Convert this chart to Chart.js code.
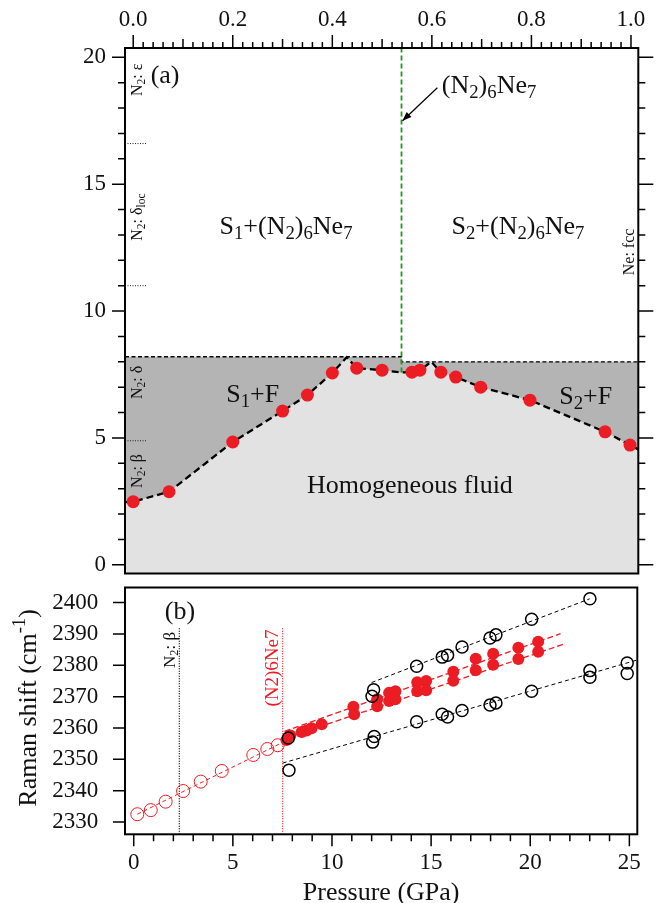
<!DOCTYPE html>
<html><head><meta charset="utf-8">
<script src="https://cdn.jsdelivr.net/npm/chart.js@4/dist/chart.umd.min.js"></script>
<style>html,body{margin:0;padding:0;background:#fff;overflow:hidden;width:656px;height:903px}canvas{position:absolute;left:0}</style>
</head><body>
<canvas id="ca" width="656" height="580" style="top:0"></canvas>
<canvas id="cb" width="656" height="323" style="top:580px"></canvas>
<script>
// ---------- Panel (a): phase diagram (x = Ne fraction, y = pressure GPa) ----------
const phaseX = [0.0, 0.072, 0.2, 0.3, 0.35, 0.4, 0.449, 0.5, 0.56, 0.576, 0.618, 0.648, 0.698, 0.797, 0.948, 0.998];
const phaseP = [2.49, 2.88, 4.84, 6.06, 6.69, 7.56, 7.75, 7.67, 7.59, 7.67, 7.59, 7.40, 7.00, 6.49, 5.24, 4.72];
const boundaryX = [-0.0165, 0.0, 0.072, 0.2, 0.3, 0.35, 0.4, 0.429, 0.449, 0.5, 0.539, 0.56, 0.576, 0.599, 0.618, 0.648, 0.698, 0.797, 0.948, 0.998, 1.0147];
const boundaryP = [2.47, 2.49, 2.88, 4.84, 6.06, 6.69, 7.56, 8.18, 7.75, 7.67, 7.58, 7.59, 7.67, 8.0, 7.59, 7.40, 7.00, 6.49, 5.24, 4.72, 4.55];
const solidusX = [-0.0165, 0.539, 0.539, 1.0147];
const solidusP = [8.2, 8.2, 8.0, 8.0];
const compoundX = [0.539, 0.539];
const compoundP = [7.58, 20.4];
const n2TransitionP = [16.6, 11.0, 4.89];
const n2MarkX = [-0.0165, 0.028];
const topTicks = [0, 0.2, 0.4, 0.6, 0.8, 1.0];
const pressureTicksA = [0, 5, 10, 15, 20];

// ---------- Panel (b): Raman shift vs pressure ----------
const fluidP  = [0.18, 0.86, 1.61, 2.49, 3.38, 4.44, 6.03, 6.74, 7.26];
const fluidNu = [2332.5, 2333.8, 2336.5, 2339.9, 2342.9, 2346.3, 2351.4, 2353.3, 2354.5];
const compP  = [7.7, 7.9, 8.47, 8.72, 8.97, 9.48, 11.08, 11.12, 12.28, 12.28, 12.88, 13.2, 12.88, 13.2, 14.3, 14.75, 14.3, 14.75, 16.12, 16.12, 17.25, 17.25, 18.13, 18.13, 19.4, 19.4, 20.4, 20.4];
const compNu = [2356.2, 2357.6, 2358.7, 2359.2, 2359.9, 2361.2, 2366.8, 2364.4, 2369.2, 2366.9, 2371.2, 2371.7, 2368.6, 2369.2, 2374.6, 2375.0, 2371.7, 2372.0, 2377.9, 2375.1, 2382.1, 2378.4, 2383.7, 2380.2, 2385.6, 2382.0, 2387.5, 2384.3];
const solidLowP  = [7.83, 7.8, 12.05, 12.13, 14.27, 15.56, 15.83, 16.56, 17.97, 18.27, 20.07, 23.01, 23.01, 24.89, 24.89];
const solidLowNu = [2346.5, 2356.8, 2355.5, 2357.3, 2362.0, 2364.4, 2363.5, 2365.6, 2367.3, 2368.0, 2371.7, 2378.3, 2376.2, 2380.7, 2377.4];
const solidHighP  = [12.02, 12.1, 14.27, 15.56, 15.83, 16.56, 17.97, 18.27, 20.07, 23.01];
const solidHighNu = [2370.1, 2372.2, 2379.7, 2382.6, 2383.2, 2385.8, 2388.7, 2389.7, 2394.7, 2401.2];
const fitFluidP = [0.18, 7.7],  fitFluidNu = [2332.5, 2356.0];
const fitCompUpP = [7.6, 21.53], fitCompUpNu = [2358.9, 2390.1];
const fitCompLoP = [7.6, 21.72], fitCompLoNu = [2356.6, 2386.8];
const fitSolLoP = [7.51, 25.4],  fitSolLoNu = [2348.8, 2381.7];
const fitSolHiP = [12.0, 23.0],  fitSolHiNu = [2374.5, 2401.2];
const betaLineP = [2.3, 2.3], compLineP = [7.51, 7.51], vLineNu = [2391.8, 2320];
const ramanTicks = [2330, 2340, 2350, 2360, 2370, 2380, 2390, 2400];
const pressureTicksB = [0, 5, 10, 15, 20, 25];

const RED = '#ec1c24', FAM = "'Liberation Serif', serif";
const pts = (xs, ys) => xs.map((x, i) => ({x, y: ys[i]}));

function parseRich(s){
  const out=[]; let i=0;
  while(i<s.length){
    const c=s[i];
    if(c==='_'||c==='^'){
      const m=c==='_'?1:2; i++; let t;
      if(s[i]==='{'){const j=s.indexOf('}',i); t=s.slice(i+1,j); i=j+1;} else {t=s[i]; i++;}
      out.push({t,m});
    } else { let j=i; while(j<s.length&&s[j]!=='_'&&s[j]!=='^') j++; out.push({t:s.slice(i,j),m:0}); i=j; }
  }
  return out;
}
function drawRich(ctx, s, x, y, size, align, color){
  const segs=parseRich(s); let w=0;
  for(const g of segs){ ctx.font=(g.m?size*0.72:size)+'px '+FAM; g.w=ctx.measureText(g.t).width; w+=g.w; }
  let cx = align==='center'? x-w/2 : align==='right'? x-w : x;
  const base=y+size*0.33;
  ctx.textBaseline='alphabetic'; ctx.textAlign='left'; ctx.fillStyle=color||'#111';
  for(const g of segs){
    ctx.font=(g.m?size*0.72:size)+'px '+FAM;
    const dy = g.m===1? size*0.2 : g.m===2? -size*0.4 : 0;
    ctx.fillText(g.t, cx, base+dy); cx+=g.w;
  }
}
function drawRot(ctx, s, x, y, size, color){
  ctx.save(); ctx.translate(x,y); ctx.rotate(-Math.PI/2); drawRich(ctx,s,0,0,size,'center',color); ctx.restore();
}

const frameTicks = {
  id:'frameTicks',
  afterDraw(chart, args, opts){
    const ctx=chart.ctx, a=chart.chartArea;
    ctx.save(); ctx.strokeStyle='#000'; ctx.lineWidth=1.5; ctx.beginPath();
    for(const spec of opts.specs){
      const sc=chart.scales[spec.scale];
      for(const t of spec.ticks){
        const p=sc.getPixelForValue(t.v);
        if(spec.side==='left'){ctx.moveTo(a.left,p);ctx.lineTo(a.left-t.len,p);}
        if(spec.side==='right'){ctx.moveTo(a.right,p);ctx.lineTo(a.right+t.len,p);}
        if(spec.side==='top'){ctx.moveTo(p,a.top);ctx.lineTo(p,a.top-t.len);}
        if(spec.side==='bottom'){ctx.moveTo(p,a.bottom);ctx.lineTo(p,a.bottom+t.len);}
      }
    }
    ctx.stroke();
    ctx.lineWidth=2; ctx.strokeRect(a.left,a.top,a.right-a.left,a.bottom-a.top);
    ctx.restore();
  }
};

// tick mark lists (positions of axis ticks)
const aLeft=[], aTop=[], bLeft=[], bBottom=[];
for(let v=0; v<=20; v++) aLeft.push({v, len: v%5===0?13:7});
for(let i=0; i<=50; i++) aTop.push({v:i/50, len: i%10===0?13:(i%5===0?9:6)});
for(const v of ramanTicks) bLeft.push({v, len:12});
for(let v=0; v<=25; v++) bBottom.push({v, len: v%5===0?12:7});
const aRight = aLeft.map(t=>({v:t.v, len: t.v%5===0?15:7}));

const annA = {
  id:'annA',
  afterDatasetsDraw(chart){
    const ctx=chart.ctx, xs=chart.scales.x, ys=chart.scales.y;
    const px=v=>xs.getPixelForValue(v), py=v=>ys.getPixelForValue(v);
    ctx.save();
    drawRich(ctx,'(a)',px(0.064),py(19.31),26,'center');
    drawRich(ctx,'(N_2)_6Ne_7',px(0.620),py(18.92),26,'left');
    drawRich(ctx,'S_1+(N_2)_6Ne_7',px(0.307),py(13.39),26,'center');
    drawRich(ctx,'S_2+(N_2)_6Ne_7',px(0.773),py(13.39),26,'center');
    drawRich(ctx,'S_1+F',px(0.24),py(6.76),26,'center');
    drawRich(ctx,'S_2+F',px(0.909),py(6.68),26,'center');
    drawRich(ctx,'Homogeneous fluid',px(0.556),py(3.15),26,'center');
    drawRot(ctx,'N_2: ε',px(0.0076),py(19.11),16);
    drawRot(ctx,'N_2: δ_{loc}',px(0.0076),py(13.7),16);
    drawRot(ctx,'N_2: δ',px(0.0076),py(7.19),16);
    drawRot(ctx,'N_2: β',px(0.0076),py(3.70),16);
    drawRot(ctx,'Ne: fcc',px(0.995),py(12.33),16);
    // arrow
    const x1=px(0.611),y1=py(18.8),x2=px(0.541),y2=py(17.5);
    ctx.strokeStyle='#000'; ctx.fillStyle='#000'; ctx.lineWidth=1.2;
    ctx.beginPath(); ctx.moveTo(x1,y1); ctx.lineTo(x2,y2); ctx.stroke();
    const ang=Math.atan2(y2-y1,x2-x1), L=9, W=3.5;
    ctx.beginPath(); ctx.moveTo(x2,y2);
    ctx.lineTo(x2-L*Math.cos(ang)+W*Math.sin(ang), y2-L*Math.sin(ang)-W*Math.cos(ang));
    ctx.lineTo(x2-L*Math.cos(ang)-W*Math.sin(ang), y2-L*Math.sin(ang)+W*Math.cos(ang));
    ctx.closePath(); ctx.fill();
    ctx.restore();
  }
};

const annB = {
  id:'annB',
  afterDatasetsDraw(chart){
    const ctx=chart.ctx, xs=chart.scales.x, ys=chart.scales.y, a=chart.chartArea;
    const px=v=>xs.getPixelForValue(v), py=v=>ys.getPixelForValue(v);
    ctx.save();
    drawRich(ctx,'(b)',px(2.33),py(2397.4),26,'center');
    drawRot(ctx,'N_2: β',px(1.78),py(2384.9),17,'#111');
    drawRot(ctx,'(N2)6Ne7',px(6.97),py(2379.1),19,RED);
    drawRot(ctx,'Raman shift (cm^{-1})',27,(a.top+a.bottom)/2-3,26,'#111');
    drawRich(ctx,'Pressure (GPa)',(a.left+a.right)/2,311,26,'center');
    ctx.restore();
  }
};

Chart.defaults.font.family = FAM;
Chart.defaults.color = '#111';

const lineDs = (xs, ys, color, width, dash, order, extra) => Object.assign({
  data: pts(xs, ys), showLine:true, borderColor:color, borderWidth:width, borderDash:dash,
  pointRadius:0, fill:false, order}, extra||{});
const noPad = s => { s.paddingTop=0; s.paddingBottom=0; s.paddingLeft=0; s.paddingRight=0; };

new Chart(document.getElementById('ca'), {
  type:'scatter',
  data:{ datasets:[
    {label:'Measured boundary', data:pts(phaseX,phaseP), pointRadius:6.5, pointBackgroundColor:RED, pointBorderWidth:0, showLine:false, order:1},
    ...n2TransitionP.map(p => lineDs(n2MarkX,[p,p],'#222',1,[1,1.5],2)),
    lineDs(compoundX,compoundP,'#1a9c1a',1.8,[5,3],3),
    lineDs(boundaryX,boundaryP,'#000',2.3,[7,4],4,{fill:'start',backgroundColor:'#e2e2e2'}),
    lineDs(solidusX,solidusP,'#000',1.3,[4,2.5],5,{fill:'start',backgroundColor:'#b4b4b4'})
  ]},
  options:{
    responsive:false, animation:false, devicePixelRatio:1, events:[],
    layout:{padding:{left:0,right:17.7,top:0,bottom:4}},
    plugins:{legend:{display:false}, tooltip:{enabled:false},
      frameTicks:{specs:[{scale:'y',side:'left',ticks:aLeft},{scale:'y',side:'right',ticks:aRight},{scale:'xTop',side:'top',ticks:aTop}]}},
    scales:{
      x:{type:'linear', min:-0.0165, max:1.0147, display:false},
      xTop:{type:'linear', position:'top', min:-0.0165, max:1.0147,
        grid:{display:false, drawTicks:false}, border:{display:false},
        afterBuildTicks:s=>{s.ticks=topTicks.map(v=>({value:v}));},
        afterFit:s=>{s.height=48; noPad(s);},
        ticks:{padding:14, font:{size:23, family:FAM}, color:'#111', callback:v=>Number(v).toFixed(1)}},
      y:{type:'linear', min:-0.341, max:20.365,
        grid:{display:false, drawTicks:false}, border:{display:false},
        afterBuildTicks:s=>{s.ticks=pressureTicksA.map(v=>({value:v}));},
        afterFit:s=>{s.width=125; noPad(s);},
        ticks:{padding:19, font:{size:23, family:FAM}, color:'#111', callback:v=>String(v)}}
    }
  },
  plugins:[frameTicks, annA]
});

new Chart(document.getElementById('cb'), {
  type:'scatter',
  data:{ datasets:[
    {label:'Solid (low)', data:pts(solidLowP,solidLowNu), pointRadius:6, pointBackgroundColor:'rgba(0,0,0,0)', pointBorderColor:'#000', pointBorderWidth:1.5, showLine:false, order:1},
    {label:'Solid (high)', data:pts(solidHighP,solidHighNu), pointRadius:6, pointBackgroundColor:'rgba(0,0,0,0)', pointBorderColor:'#000', pointBorderWidth:1.5, showLine:false, order:1},
    {label:'(N2)6Ne7', data:pts(compP,compNu), pointRadius:6, pointBackgroundColor:RED, pointBorderWidth:0, showLine:false, order:2},
    {label:'Fluid', data:pts(fluidP,fluidNu), pointRadius:6.5, pointBackgroundColor:'rgba(0,0,0,0)', pointBorderColor:RED, pointBorderWidth:1, showLine:false, order:3},
    lineDs(fitFluidP,fitFluidNu,RED,1,[4,3],4),
    lineDs(fitCompUpP,fitCompUpNu,RED,1.3,[6,3],4),
    lineDs(fitCompLoP,fitCompLoNu,RED,1.3,[6,3],4),
    lineDs(fitSolLoP,fitSolLoNu,'#000',1,[4,3],4),
    lineDs(fitSolHiP,fitSolHiNu,'#000',1,[4,3],4),
    lineDs(betaLineP,vLineNu,'#000',1.2,[1,1.5],5),
    lineDs(compLineP,vLineNu,RED,1.2,[1,1.5],5)
  ]},
  options:{
    responsive:false, animation:false, devicePixelRatio:1, events:[],
    layout:{padding:{left:0,right:18.7,top:2.3,bottom:0}},
    plugins:{legend:{display:false}, tooltip:{enabled:false},
      frameTicks:{specs:[{scale:'y',side:'left',ticks:bLeft},{scale:'x',side:'bottom',ticks:bBottom}]}},
    scales:{
      x:{type:'linear', min:-0.44, max:25.4,
        grid:{display:false, drawTicks:false}, border:{display:false},
        afterBuildTicks:s=>{s.ticks=pressureTicksB.map(v=>({value:v}));},
        afterFit:s=>{s.height=68.7; noPad(s);},
        ticks:{padding:15, font:{size:23, family:FAM}, color:'#111', callback:v=>String(v)}},
      y:{type:'linear', min:2326.1, max:2404.8,
        grid:{display:false, drawTicks:false}, border:{display:false},
        afterBuildTicks:s=>{s.ticks=ramanTicks.map(v=>({value:v}));},
        afterFit:s=>{s.width=125; noPad(s);},
        ticks:{padding:26.7, font:{size:23, family:FAM}, color:'#111', callback:v=>String(v)}}
    }
  },
  plugins:[frameTicks, annB]
});
</script>
</body></html>
